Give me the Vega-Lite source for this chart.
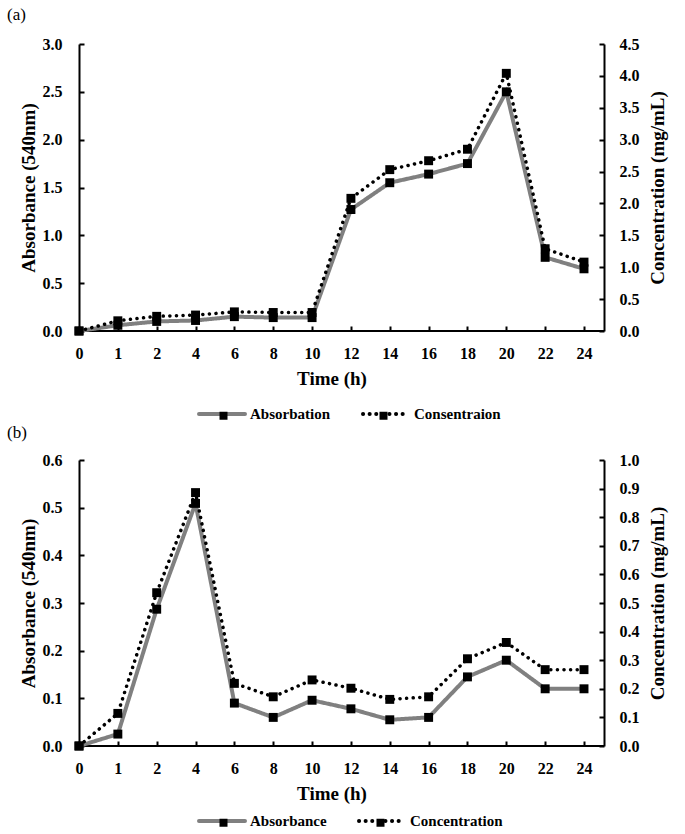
{
  "$schema": "https://vega.github.io/schema/vega-lite/v6.json",
  "background": "white",
  "padding": {"left": 7, "top": 6, "right": 5, "bottom": 0},
  "config": {
    "font": "Liberation Serif",
    "view": {"stroke": null},
    "axis": {
      "labelFont": "Liberation Serif", "labelFontWeight": "bold", "labelFontSize": 16, "labelColor": "black",
      "titleFont": "Liberation Serif", "titleFontWeight": "bold", "titleFontSize": 19, "titleColor": "black",
      "domainColor": "black", "domainWidth": 2, "tickColor": "black", "tickWidth": 2, "tickSize": -5, "grid": false
    },
    "legend": {
      "labelFont": "Liberation Serif", "labelFontWeight": "bold", "labelFontSize": 15, "labelColor": "black",
      "orient": "none", "direction": "horizontal"
    },
    "title": {"font": "Liberation Serif", "fontSize": 17, "fontWeight": "normal", "color": "black", "anchor": "start", "frame": "group", "dx": -72, "offset": 12}
  },
  "datasets": {
    "a": [
      {"time": 0, "abs": 0, "conc": 0},
      {"time": 1, "abs": 0.06, "conc": 0.16},
      {"time": 2, "abs": 0.10, "conc": 0.23},
      {"time": 4, "abs": 0.11, "conc": 0.25},
      {"time": 6, "abs": 0.15, "conc": 0.30},
      {"time": 8, "abs": 0.14, "conc": 0.29},
      {"time": 10, "abs": 0.14, "conc": 0.29},
      {"time": 12, "abs": 1.27, "conc": 2.08},
      {"time": 14, "abs": 1.55, "conc": 2.53},
      {"time": 16, "abs": 1.64, "conc": 2.67},
      {"time": 18, "abs": 1.75, "conc": 2.85},
      {"time": 20, "abs": 2.50, "conc": 4.04},
      {"time": 22, "abs": 0.77, "conc": 1.29},
      {"time": 24, "abs": 0.65, "conc": 1.08}
    ],
    "b": [
      {"time": 0, "abs": 0, "conc": 0},
      {"time": 1, "abs": 0.025, "conc": 0.114},
      {"time": 2, "abs": 0.287, "conc": 0.536},
      {"time": 4, "abs": 0.509, "conc": 0.886},
      {"time": 6, "abs": 0.09, "conc": 0.219},
      {"time": 8, "abs": 0.06, "conc": 0.172},
      {"time": 10, "abs": 0.096, "conc": 0.231},
      {"time": 12, "abs": 0.078, "conc": 0.202},
      {"time": 14, "abs": 0.055, "conc": 0.163},
      {"time": 16, "abs": 0.06, "conc": 0.172},
      {"time": 18, "abs": 0.145, "conc": 0.305},
      {"time": 20, "abs": 0.18, "conc": 0.362},
      {"time": 22, "abs": 0.12, "conc": 0.267},
      {"time": 24, "abs": 0.12, "conc": 0.267}
    ]
  },
  "spacing": 0,
  "resolve": {"scale": {"color": "independent", "strokeDash": "independent", "shape": "independent", "x": "independent"}},
  "vconcat": [
    {
      "title": "(a)",
      "width": 525, "height": 287,
      "data": {"name": "a"},
      "layer": [
        {
          "encoding": {"y": {"field": "abs", "type": "quantitative", "scale": {"domain": [0, 3]}, "axis": {"orient": "left", "values": [0, 0.5, 1, 1.5, 2, 2.5, 3], "format": ".1f", "title": "Absorbance (540nm)", "labelPadding": 22, "titlePadding": 4}}},
          "layer": [
            {"mark": {"type": "rule", "color": "black", "strokeWidth": 2}, "encoding": {"y": {"datum": 0}}},
            {
              "mark": {"type": "line", "strokeWidth": 4},
              "encoding": {
                "x": {"field": "time", "type": "ordinal", "scale": {"type": "point", "padding": 0, "range": [0, 505]}, "axis": {"title": "Time (h)", "labelAngle": 0, "domain": false, "labelPadding": 19, "titlePadding": 8}},
                "color": {"datum": "Absorbation", "scale": {"domain": ["Absorbation", "Consentraion"], "range": ["#808080", "black"]}, "legend": {"title": null, "legendX": 118, "legendY": 345, "symbolType": "M-1,0H1", "symbolSize": 2116, "symbolStrokeWidth": 4, "labelOffset": 3, "columnPadding": 24, "encode": {"symbols": {"update": {"strokeCap": {"value": "round"}}}}}},
                "strokeDash": {"datum": "Absorbation", "scale": {"domain": ["Absorbation", "Consentraion"], "range": [[1, 0], [0.1, 6.5]]}, "legend": {"title": null, "legendX": 118, "legendY": 345, "symbolType": "M-1,0H1", "symbolSize": 2116, "symbolStrokeWidth": 4, "labelOffset": 3, "columnPadding": 24}}
              }
            },
            {"mark": {"type": "point", "filled": true, "color": "black", "size": 80, "opacity": 1},
             "encoding": {"x": {"field": "time", "type": "ordinal"},
               "shape": {"datum": "Absorbation ", "scale": {"domain": ["Absorbation ", "Consentraion "], "range": ["square", "square"]}, "legend": {"title": null, "legendX": 137, "legendY": 364, "symbolSize": 64, "symbolFillColor": "black", "symbolStrokeWidth": 0, "labelOffset": 0, "columnPadding": 145, "labelExpr": "''"}}}}
          ]
        },
        {
          "encoding": {"y": {"field": "conc", "type": "quantitative", "scale": {"domain": [0, 4.5]}, "axis": {"orient": "right", "values": [0, 0.5, 1, 1.5, 2, 2.5, 3, 3.5, 4, 4.5], "format": ".1f", "title": "Concentration (mg/mL)", "titleAngle": 270, "titleBaseline": "top", "labelPadding": 20, "titlePadding": 9}}},
          "layer": [
            {
              "mark": {"type": "line", "strokeWidth": 3.5, "strokeCap": "round"},
              "encoding": {
                "x": {"field": "time", "type": "ordinal"},
                "color": {"datum": "Consentraion"},
                "strokeDash": {"datum": "Consentraion"}
              }
            },
            {"mark": {"type": "point", "filled": true, "color": "black", "size": 80, "opacity": 1},
             "encoding": {"x": {"field": "time", "type": "ordinal"}, "shape": {"datum": "Consentraion "}}}
          ]
        }
      ],
      "resolve": {"scale": {"y": "independent"}}
    },
    {
      "title": {"text": "(b)", "offset": 10},
      "width": 525, "height": 286,
      "data": {"name": "b"},
      "layer": [
        {
          "encoding": {"y": {"field": "abs", "type": "quantitative", "scale": {"domain": [0, 0.6]}, "axis": {"orient": "left", "values": [0, 0.1, 0.2, 0.3, 0.4, 0.5, 0.6], "format": ".1f", "title": "Absorbance (540nm)", "labelPadding": 22, "titlePadding": 4}}},
          "layer": [
            {"mark": {"type": "rule", "color": "black", "strokeWidth": 2}, "encoding": {"y": {"datum": 0}}},
            {
              "mark": {"type": "line", "strokeWidth": 4},
              "encoding": {
                "x": {"field": "time", "type": "ordinal", "scale": {"type": "point", "padding": 0, "range": [0, 505]}, "axis": {"title": "Time (h)", "labelAngle": 0, "domain": false, "labelPadding": 19, "titlePadding": 8}},
                "color": {"datum": "Absorbance", "scale": {"domain": ["Absorbance", "Concentration"], "range": ["#808080", "black"]}, "legend": {"title": null, "legendX": 118, "legendY": 336, "symbolType": "M-1,0H1", "symbolSize": 2116, "symbolStrokeWidth": 4, "labelOffset": 3, "columnPadding": 24, "encode": {"symbols": {"update": {"strokeCap": {"value": "round"}}}}}},
                "strokeDash": {"datum": "Absorbance", "scale": {"domain": ["Absorbance", "Concentration"], "range": [[1, 0], [0.1, 6.5]]}, "legend": {"title": null, "legendX": 118, "legendY": 336, "symbolType": "M-1,0H1", "symbolSize": 2116, "symbolStrokeWidth": 4, "labelOffset": 3, "columnPadding": 24}}
              }
            },
            {"mark": {"type": "point", "filled": true, "color": "black", "size": 80, "opacity": 1},
             "encoding": {"x": {"field": "time", "type": "ordinal"},
               "shape": {"datum": "Absorbance ", "scale": {"domain": ["Absorbance ", "Concentration "], "range": ["square", "square"]}, "legend": {"title": null, "legendX": 137, "legendY": 355, "symbolSize": 64, "symbolFillColor": "black", "symbolStrokeWidth": 0, "labelOffset": 0, "columnPadding": 142, "labelExpr": "''"}}}}
          ]
        },
        {
          "encoding": {"y": {"field": "conc", "type": "quantitative", "scale": {"domain": [0, 1]}, "axis": {"orient": "right", "values": [0, 0.1, 0.2, 0.3, 0.4, 0.5, 0.6, 0.7, 0.8, 0.9, 1.0], "format": ".1f", "title": "Concentration (mg/mL)", "titleAngle": 270, "titleBaseline": "top", "labelPadding": 20, "titlePadding": 9}}},
          "layer": [
            {
              "mark": {"type": "line", "strokeWidth": 3.5, "strokeCap": "round"},
              "encoding": {
                "x": {"field": "time", "type": "ordinal"},
                "color": {"datum": "Concentration"},
                "strokeDash": {"datum": "Concentration"}
              }
            },
            {"mark": {"type": "point", "filled": true, "color": "black", "size": 80, "opacity": 1},
             "encoding": {"x": {"field": "time", "type": "ordinal"}, "shape": {"datum": "Concentration "}}}
          ]
        }
      ],
      "resolve": {"scale": {"y": "independent"}}
    }
  ]
}
